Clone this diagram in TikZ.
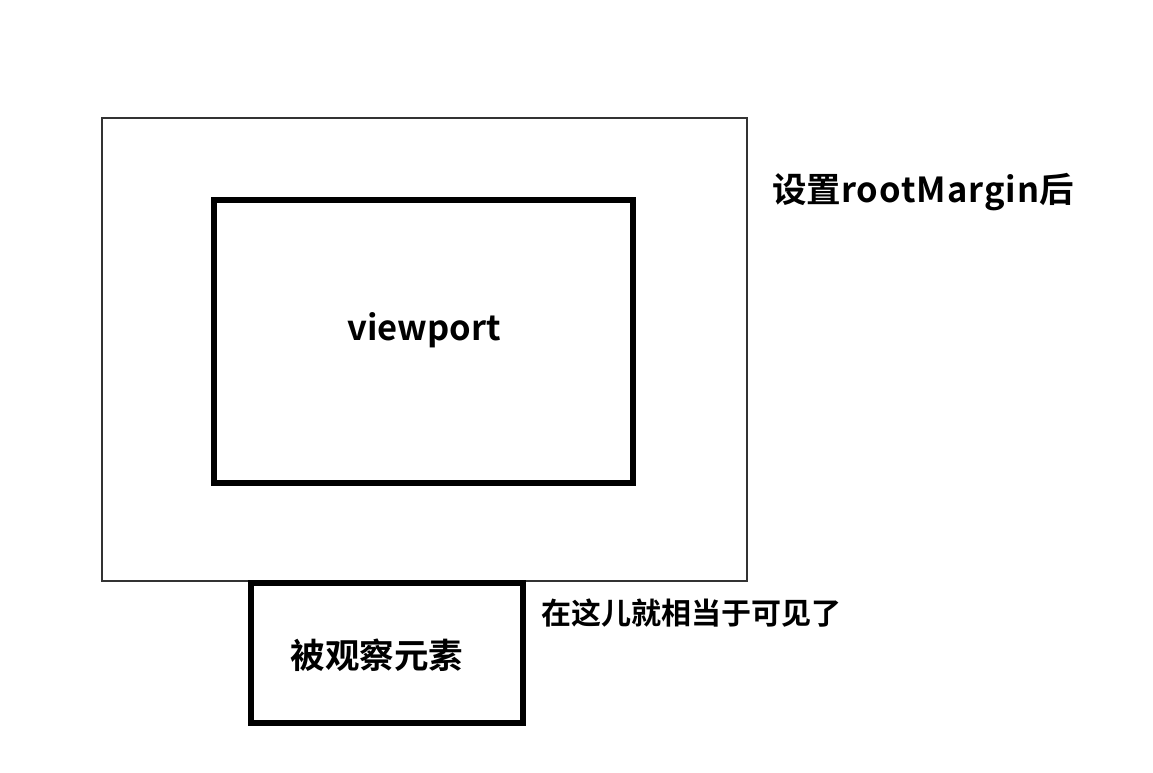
\documentclass[tikz,border=0pt]{standalone}
\usepackage{fontspec}
\newfontfamily\cjk{Noto Sans CJK SC}[BoldFont={Noto Sans CJK SC Bold}]
\begin{document}
\begin{tikzpicture}[x=1pt,y=-1pt,
  thinbox/.style={draw=black!80,line width=1.3pt},
  thickbox/.style={draw=black,line width=6.5pt},
  lbl/.style={font=\cjk\bfseries\fontsize{34.5}{38}\selectfont,inner sep=0pt,anchor=center}]
\useasboundingbox[fill=white] (0,0) rectangle (1153,773);
\draw[thinbox] (102,118) rectangle (747,581);
\draw[thickbox] (214,200) rectangle (633,483);
\draw[thickbox] (251,583) rectangle (523,723);
\node[lbl] (vp) at (424,330) {viewport};
\node[lbl] (obs) at (377,655) {被观察元素};
\node[lbl,anchor=west] (rm) at (772,192) {设置{\addfontfeature{LetterSpace=3}rootMargin}后};
\node[lbl,anchor=west,font=\cjk\bfseries\fontsize{30}{33}\selectfont] (here) at (541,613) {在这儿就相当于可见了};
\end{tikzpicture}
\end{document}
